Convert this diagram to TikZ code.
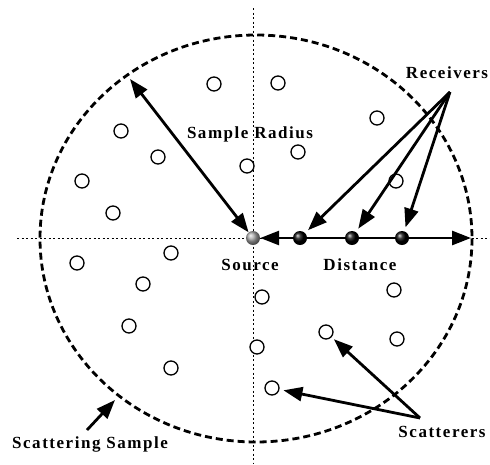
\documentclass[tikz,border=0pt]{standalone}
\usepackage{fontspec}
\newfontfamily\lblfont[LetterSpace=9]{Liberation Serif}
\usetikzlibrary{arrows.meta,shadings}
\begin{document}
\begin{tikzpicture}[x=1pt,y=-1pt,
 lbl/.style={font=\lblfont\bfseries\fontsize{17}{20}\selectfont, inner sep=0pt},
 scat/.style={circle,draw,line width=1.3pt,minimum size=14pt,inner sep=0pt,fill=white},
 bal/.style={circle,shading=ball,minimum size=14pt,inner sep=0pt},
 arr/.style={line width=2.8pt,-{Triangle[length=19pt,width=14pt]}},
 darr/.style={line width=2.8pt,{Triangle[length=19pt,width=14pt]}-{Triangle[length=19pt,width=14pt]}},
 axis/.style={line width=1pt,dash pattern=on 2pt off 2.5pt},
 sample/.style={line width=2.8pt,dash pattern=on 7pt off 4pt},
]
\useasboundingbox (0,0) rectangle (490,464);
% sample outline
\draw[sample] (256,238.5) ellipse [x radius=216, y radius=203.5];
% axes
\coordinate (vtop) at (253,8);
\coordinate (vbot) at (253,464);
\coordinate (hl) at (17,238);
\coordinate (hr) at (490,238);
\draw[axis] (vtop) -- (vbot);
\draw[axis] (hl) -- (hr);
% scatterers
\foreach \n/\x/\y in {1/214/84,2/121/131,3/158/157,4/82/181,5/113/213,
 6/278/83,7/377/118,8/298/152,9/247/166,10/396/181,
 11/77/263,12/171/253,13/143/284,14/129/326,15/171/368,
 16/262/297,17/394/290,18/326/332,19/397/339,20/257/347,21/272/388}
 \node[scat] (s\n) at (\x,\y) {};
% source and receivers
\node[bal,ball color=gray!70] (src) at (253,238) {};
\coordinate (dend) at (471,238);
\draw[darr] (src.east) -- (dend);
\node[bal,ball color=black] (r1) at (300,238) {};
\node[bal,ball color=black] (r2) at (352,238) {};
\node[bal,ball color=black] (r3) at (402,238) {};
% sample radius
\coordinate (rim) at (130,79);
\draw[darr] (rim) -- (src);
% labels
\node[lbl] (lradius) at (250,134) {Sample Radius};
\node[lbl] (lrecv) at (447,73) {Receivers};
\node[lbl] (lsrc) at (250,265) {Source};
\node[lbl] (ldist) at (360,265) {Distance};
\node[lbl] (lscat) at (442,432) {Scatterers};
\node[lbl] (lsamp) at (90,444) {Scattering Sample};
% receiver arrows
\coordinate (rhub) at (450,92);
\draw[arr,shorten >=4pt] (rhub) -- (r1);
\draw[arr,shorten >=4pt] (rhub) -- (r2);
\draw[arr,shorten >=4pt] (rhub) -- (r3);
% scatterer arrows
\coordinate (shub) at (420,418);
\draw[arr,shorten >=3pt] (shub) -- (s18);
\draw[arr,shorten >=4pt] (shub) -- (s21);
% sample arrow
\coordinate (sst) at (87,430);
\coordinate (sen) at (115,400);
\draw[arr] (sst) -- (sen);
\end{tikzpicture}
\end{document}
